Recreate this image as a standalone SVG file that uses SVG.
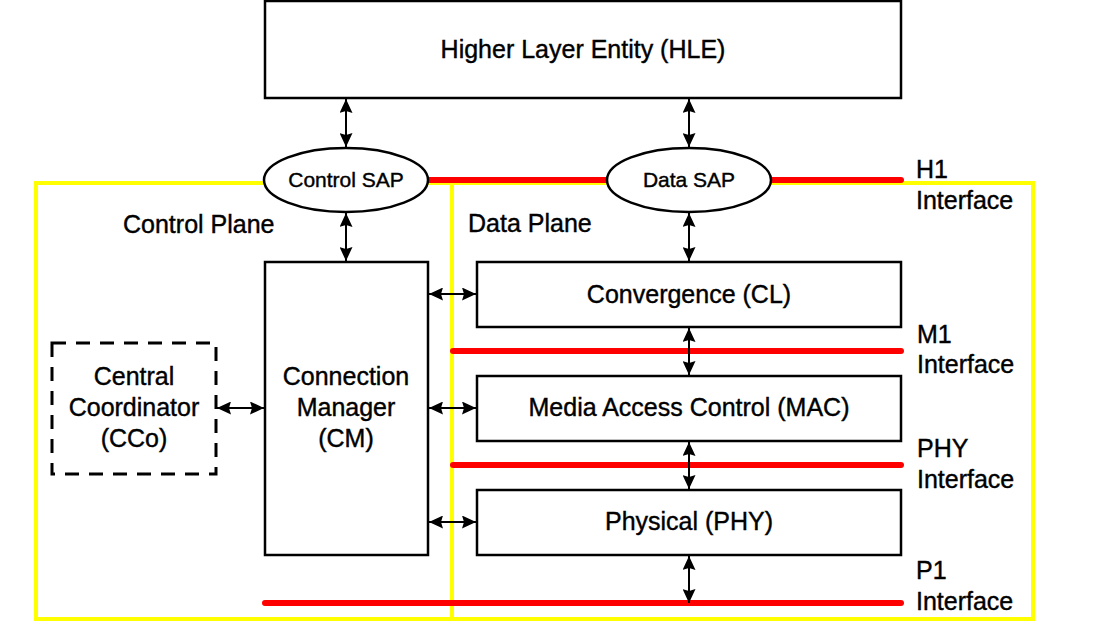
<svg xmlns="http://www.w3.org/2000/svg" width="1104" height="639" viewBox="0 0 1104 639">
<style>
.box{fill:#fff;stroke:#000;stroke-width:2.5}
.dash{fill:#fff;stroke:#000;stroke-width:3;stroke-dasharray:14 10}
.yel{fill:none;stroke:#ffff00;stroke-width:4}
.red{stroke:#ff0000;stroke-width:6;stroke-linecap:round;fill:none}
.arr{stroke:#000;stroke-width:2;fill:none;marker-start:url(#ah);marker-end:url(#ah)}
text{font-family:"Liberation Sans",Arial,sans-serif;font-size:25px;fill:#000;stroke:#000;stroke-width:0.4}
.c{text-anchor:middle}
.s{font-size:21px}
</style>
<defs>
<marker id="ah" markerUnits="userSpaceOnUse" markerWidth="14" markerHeight="13" refX="14" refY="6.5" orient="auto-start-reverse">
<path d="M0,0 L14,6.5 L0,13 L2,6.5 z" fill="#000"/>
</marker>
</defs>
<rect width="1104" height="639" fill="#fff"/>
<g id="planes">
<rect class="yel" x="36" y="183" width="997" height="436"/>
<line class="yel" x1="452" y1="183" x2="452" y2="619"/>
<text x="123" y="233">Control Plane</text>
<text x="468" y="232">Data Plane</text>
</g>
<g id="interfaces">
<line class="red" x1="428" y1="180" x2="607" y2="180"/>
<line class="red" x1="771" y1="180" x2="901" y2="180"/>
<line class="red" x1="453" y1="351" x2="901" y2="351"/>
<line class="red" x1="453" y1="465" x2="901" y2="465"/>
<line class="red" x1="265" y1="603" x2="901" y2="603"/>
<text x="916" y="178">H1</text><text x="916" y="209">Interface</text>
<text x="917" y="343">M1</text><text x="917" y="373">Interface</text>
<text x="917" y="457">PHY</text><text x="917" y="488">Interface</text>
<text x="916" y="579">P1</text><text x="916" y="610">Interface</text>
</g>
<g id="connectors">
<line class="arr" x1="346" y1="99" x2="346" y2="147"/>
<line class="arr" x1="689" y1="99" x2="689" y2="147"/>
<line class="arr" x1="346" y1="213" x2="346" y2="261"/>
<line class="arr" x1="689" y1="213" x2="689" y2="261"/>
<line class="arr" x1="689" y1="328" x2="689" y2="375"/>
<line class="arr" x1="689" y1="442" x2="689" y2="489"/>
<line class="arr" x1="689" y1="556" x2="689" y2="603"/>
<line class="arr" x1="429" y1="294" x2="476" y2="294"/>
<line class="arr" x1="429" y1="408" x2="476" y2="408"/>
<line class="arr" x1="429" y1="522" x2="476" y2="522"/>
<line class="arr" x1="217" y1="408" x2="264" y2="408"/>
</g>
<g id="hle">
<rect class="box" x="265" y="1" width="636" height="97"/>
<text class="c" x="583" y="58">Higher Layer Entity (HLE)</text>
</g>
<g id="control-sap">
<ellipse class="box" cx="346" cy="180" rx="82" ry="32"/>
<text class="c s" x="346" y="187">Control SAP</text>
</g>
<g id="data-sap">
<ellipse class="box" cx="689" cy="180" rx="82" ry="32"/>
<text class="c s" x="689" y="187">Data SAP</text>
</g>
<g id="cm">
<rect class="box" x="265" y="262" width="163" height="293"/>
<text class="c" x="346" y="385">Connection</text>
<text class="c" x="346" y="416">Manager</text>
<text class="c" x="346" y="447">(CM)</text>
</g>
<g id="cco">
<rect class="dash" x="52" y="343" width="164" height="131"/>
<text class="c" x="134" y="385">Central</text>
<text class="c" x="134" y="416">Coordinator</text>
<text class="c" x="134" y="447">(CCo)</text>
</g>
<g id="cl">
<rect class="box" x="477" y="262" width="424" height="65"/>
<text class="c" x="689" y="303">Convergence (CL)</text>
</g>
<g id="mac">
<rect class="box" x="477" y="376" width="424" height="65"/>
<text class="c" x="689" y="416">Media Access Control (MAC)</text>
</g>
<g id="phy">
<rect class="box" x="477" y="490" width="424" height="65"/>
<text class="c" x="689" y="530">Physical (PHY)</text>
</g>
</svg>
